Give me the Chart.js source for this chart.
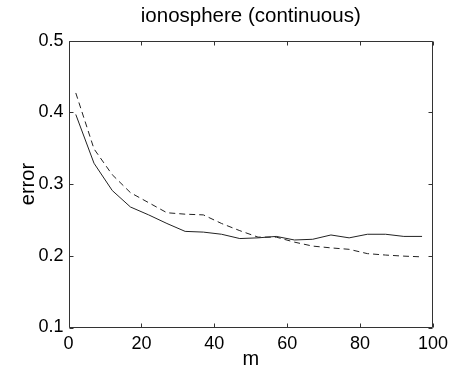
<!DOCTYPE html>
<html>
<head>
<meta charset="utf-8">
<script src="https://cdn.jsdelivr.net/npm/chart.js@4"></script>
<style>
  body { margin: 0; background: #fff; }
  #wrap { width: 454px; height: 369px; }
</style>
</head>
<body>
<div id="wrap"><canvas id="chart-iono"></canvas></div>
<script>
// Data
const mValues = [2, 7, 12, 17, 22, 27, 32, 37, 42, 47, 52, 57, 62, 67, 72, 77, 82, 87, 92, 97];
const solidError = [0.397, 0.329, 0.291, 0.268, 0.257, 0.245, 0.234, 0.233, 0.230, 0.224,
                    0.225, 0.227, 0.222, 0.223, 0.229, 0.225, 0.230, 0.230, 0.227, 0.227];
const dashedError = [0.427, 0.349, 0.313, 0.288, 0.274, 0.260, 0.258, 0.257, 0.245, 0.235,
                     0.226, 0.226, 0.219, 0.2135, 0.211, 0.209, 0.203, 0.201, 0.1995, 0.1985];
const xTicks = [0, 20, 40, 60, 80, 100];
const yTicks = [0.1, 0.2, 0.3, 0.4, 0.5];

const FONT = '"Liberation Sans", Arial, sans-serif';
const toPoints = (ys) => mValues.map((m, i) => ({ x: m, y: ys[i] }));

// frame round the plot with ticks pointing inwards (matlab style)
const framePlugin = {
  id: 'frame',
  afterDraw(chart) {
    const { ctx, chartArea: a, scales: { x, y } } = chart;
    const len = 4;
    const L = Math.round(a.left) + 0.5, R = Math.round(a.right) - 0.5;
    const T = Math.round(a.top) + 0.5, B = Math.round(a.bottom) - 0.5;
    ctx.save();
    ctx.strokeStyle = '#333';
    ctx.lineWidth = 1;
    ctx.beginPath();
    ctx.moveTo(L, T); ctx.lineTo(R, T); ctx.lineTo(R, B); ctx.lineTo(L, B); ctx.closePath();
    xTicks.forEach(v => {
      const px = Math.round(x.getPixelForValue(v)) + 0.5;
      ctx.moveTo(px, B); ctx.lineTo(px, B - len);
      ctx.moveTo(px, T); ctx.lineTo(px, T + len);
    });
    yTicks.forEach(v => {
      const py = Math.round(y.getPixelForValue(v)) + 0.5;
      ctx.moveTo(L, py); ctx.lineTo(L + len, py);
      ctx.moveTo(R, py); ctx.lineTo(R - len, py);
    });
    ctx.stroke();
    ctx.restore();
  }
};

!function(){
  const ctx = document.getElementById('chart-iono');

  new Chart(ctx, {
    type: 'scatter',
    data: {
      datasets: [
        {
          label: 'solid',
          data: toPoints(solidError),
          showLine: true,
          borderColor: '#222',
          borderWidth: 1,
          pointRadius: 0,
          tension: 0
        },
        {
          label: 'dashed',
          data: toPoints(dashedError),
          showLine: true,
          borderColor: '#222',
          borderWidth: 1,
          borderDash: [6, 4],
          pointRadius: 0,
          tension: 0
        }
      ]
    },
    options: {
      responsive: true,
      maintainAspectRatio: false,
      animation: false,
      layout: { padding: { left: 0, right: 19, top: 0, bottom: 0 } },
      scales: {
        x: {
          type: 'linear',
          min: 0,
          max: 100,
          afterFit: (s) => { s.height = 41.5; },
          afterBuildTicks: (s) => { s.ticks = xTicks.map(v => ({ value: v })); },
          grid: { display: false, drawTicks: false },
          border: { display: false },
          ticks: {
            padding: 6,
            color: '#000',
            maxRotation: 0,
            font: { family: FONT, size: 18 }
          },
          title: {
            display: true,
            text: 'm',
            color: '#000',
            padding: { top: 0, bottom: 0 },
            font: { family: FONT, size: 20, lineHeight: 1 }
          }
        },
        y: {
          min: 0.1,
          max: 0.5,
          afterFit: (s) => { s.width = 68.5; },
          afterBuildTicks: (s) => { s.ticks = yTicks.map(v => ({ value: v })); },
          grid: { display: false, drawTicks: false },
          border: { display: false },
          ticks: {
            padding: 5,
            color: '#000',
            font: { family: FONT, size: 18 },
            callback: (v) => v.toFixed(1)
          },
          title: {
            display: true,
            text: 'error',
            color: '#000',
            padding: { top: 18, bottom: 0 },
            font: { family: FONT, size: 20, lineHeight: 1 }
          }
        }
      },
      plugins: {
        legend: { display: false },
        tooltip: { enabled: false },
        title: {
          display: true,
          text: 'ionosphere (continuous)',
          fullSize: false,
          color: '#000',
          font: { family: FONT, size: 20.5, weight: 'normal', lineHeight: 1.2 },
          padding: { top: 4, bottom: 12 }
        }
      }
    },
    plugins: [framePlugin]
  });
}();
</script>
</body>
</html>
